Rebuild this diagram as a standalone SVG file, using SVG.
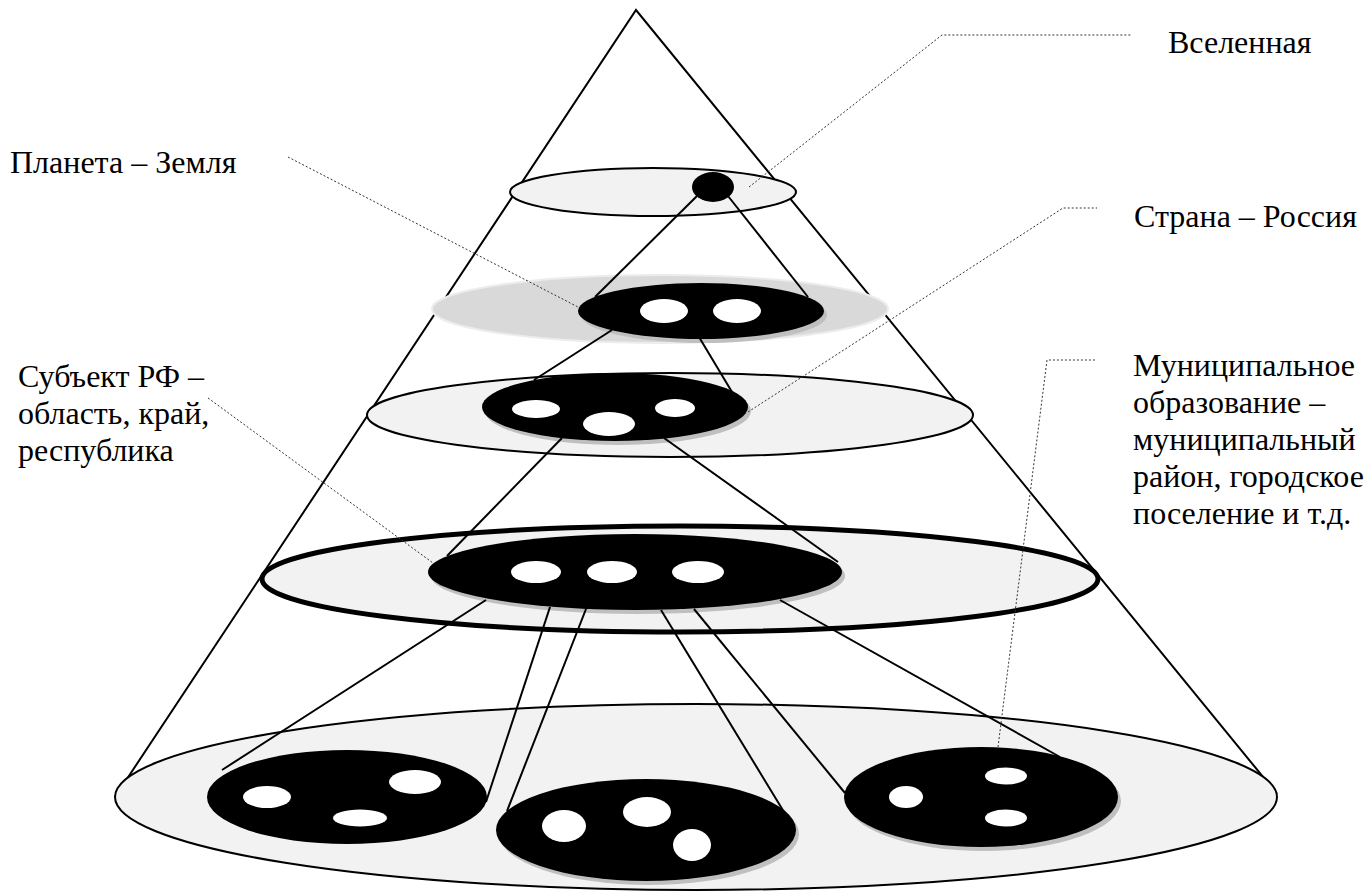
<svg xmlns="http://www.w3.org/2000/svg" width="1371" height="892" viewBox="0 0 1371 892">
<style>
.cone{stroke:#000;stroke-width:2;fill:none}
.plate{fill:#f2f2f2;stroke:#000;stroke-width:2}
.thick{fill:#f2f2f2;stroke:#000;stroke-width:5}
.haze{fill:#d9d9d9;stroke:#ececec;stroke-width:2}
.blk{fill:#000}
.shd{fill:#bfbfbf}
.hole{fill:#fff}
.conn{stroke:#000;stroke-width:2;fill:none}
.lead{stroke:#333;stroke-width:1;stroke-dasharray:2 2;fill:none}
.lbl{font-size:32px;fill:#000}
</style>
<rect width="1371" height="892" fill="#fff"/>
<g id="cone">
<path class="cone" d="M115,797 L636,10 L1277,794"/>
</g>
<g id="level5">
<ellipse class="plate" cx="696" cy="797" rx="581" ry="93"/>
<ellipse class="blk" cx="347" cy="797" rx="140" ry="47"/>
<ellipse class="hole" cx="267" cy="797" rx="24" ry="11"/>
<ellipse class="hole" cx="415" cy="782" rx="26" ry="12"/>
<ellipse class="hole" cx="360" cy="818" rx="27" ry="8.5"/>
<ellipse class="shd" cx="649" cy="834" rx="150" ry="51"/>
<ellipse class="blk" cx="646" cy="830" rx="150" ry="51"/>
<ellipse class="hole" cx="564" cy="826" rx="22" ry="16"/>
<ellipse class="hole" cx="647" cy="812" rx="24" ry="15"/>
<ellipse class="hole" cx="692" cy="845" rx="19" ry="16"/>
<ellipse class="shd" cx="984" cy="801" rx="137" ry="50"/>
<ellipse class="blk" cx="981" cy="797" rx="137" ry="50"/>
<ellipse class="hole" cx="906" cy="797" rx="17" ry="11"/>
<ellipse class="hole" cx="1006" cy="776" rx="21" ry="8.5"/>
<ellipse class="hole" cx="1006" cy="818" rx="21" ry="8.5"/>
</g>
<g id="level4">
<ellipse class="thick" cx="680" cy="579" rx="418" ry="53"/>
<ellipse class="shd" cx="638" cy="576" rx="207" ry="38"/>
<ellipse class="blk" cx="635" cy="572" rx="207" ry="38"/>
<ellipse class="hole" cx="536" cy="572" rx="25" ry="11"/>
<ellipse class="hole" cx="612" cy="572" rx="25" ry="11"/>
<ellipse class="hole" cx="698" cy="572" rx="26" ry="11"/>
</g>
<g id="level3">
<ellipse class="plate" cx="670" cy="415" rx="303" ry="42"/>
<ellipse class="shd" cx="618" cy="411" rx="133" ry="34"/>
<ellipse class="blk" cx="615" cy="407" rx="133" ry="34"/>
<ellipse class="hole" cx="536" cy="409" rx="24" ry="9"/>
<ellipse class="hole" cx="609" cy="424" rx="26" ry="12"/>
<ellipse class="hole" cx="675" cy="408" rx="20" ry="9"/>
</g>
<g id="level2">
<ellipse class="haze" cx="660" cy="309" rx="228" ry="34"/>
<ellipse class="shd" cx="704" cy="315" rx="123" ry="28"/>
<ellipse class="blk" cx="701" cy="311" rx="123" ry="28"/>
<ellipse class="hole" cx="664" cy="311" rx="24" ry="12"/>
<ellipse class="hole" cx="737" cy="311" rx="24" ry="12"/>
</g>
<g id="level1">
<ellipse class="plate" cx="653" cy="192" rx="143" ry="24"/>
<ellipse class="blk" cx="713" cy="187" rx="21" ry="15"/>
</g>
<g id="connectors">
<line class="conn" x1="697" y1="196" x2="595" y2="297"/>
<line class="conn" x1="728" y1="196" x2="808" y2="297"/>
<line class="conn" x1="612" y1="330" x2="534" y2="380"/>
<line class="conn" x1="699" y1="337" x2="732" y2="392"/>
<line class="conn" x1="562" y1="438" x2="447" y2="556"/>
<line class="conn" x1="664" y1="438" x2="838" y2="562"/>
<line class="conn" x1="486" y1="600" x2="222" y2="770"/>
<line class="conn" x1="550" y1="607" x2="486" y2="802"/>
<line class="conn" x1="586" y1="609" x2="507" y2="811"/>
<line class="conn" x1="661" y1="610" x2="795" y2="830"/>
<line class="conn" x1="694" y1="609" x2="845" y2="793"/>
<line class="conn" x1="780" y1="600" x2="1060" y2="757"/>
</g>
<g id="leaders">
<polyline class="lead" points="749,187 942,35 1132,35"/>
<polyline class="lead" points="288,157 578,307"/>
<polyline class="lead" points="748,412 1063,208 1097,208"/>
<polyline class="lead" points="208,398 433,563"/>
<polyline class="lead" points="998,747 1047,360 1095,360"/>
</g>
<g font-family="Liberation Serif, DejaVu Serif, Noto Serif, serif">
<g id="label-universe"><text class="lbl" x="1168" y="53">Вселенная</text></g>
<g id="label-planet"><text class="lbl" x="10" y="173">Планета – Земля</text></g>
<g id="label-country"><text class="lbl" x="1134" y="227">Страна – Россия</text></g>
<g id="label-subject"><text class="lbl" x="18" y="387">Субъект РФ –<tspan x="18" y="424">область, край,</tspan><tspan x="18" y="461">республика</tspan></text></g>
<g id="label-municipal"><text class="lbl" x="1133" y="376">Муниципальное<tspan x="1133" y="413">образование –</tspan><tspan x="1133" y="450">муниципальный</tspan><tspan x="1133" y="487">район, городское</tspan><tspan x="1133" y="524">поселение и т.д.</tspan></text></g>
</g>
</svg>
